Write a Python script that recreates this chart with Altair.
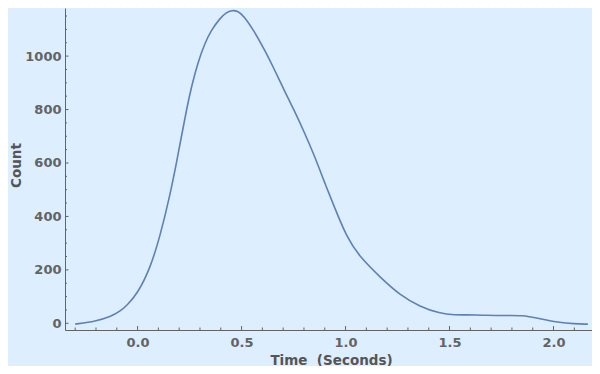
import altair as alt
import pandas as pd

# Smoothed histogram
time_s = [-0.30, -0.20, -0.13, -0.084, -0.05, 0.0, 0.06, 0.108, 0.156, 0.188, 0.212,
          0.236, 0.26, 0.292, 0.324, 0.356, 0.397, 0.425, 0.455, 0.48, 0.51, 0.562,
          0.61, 0.658, 0.706, 0.754, 0.801, 0.849, 0.897, 0.945, 1.006, 1.07, 1.166,
          1.262, 1.358, 1.454, 1.517, 1.62, 1.76, 1.85, 1.935, 2.02, 2.10, 2.165]
count = [-3, 8, 25, 45, 68, 112, 205, 325, 480, 605, 704,
         802, 889, 981, 1049, 1099, 1142, 1163, 1172, 1169, 1152, 1092,
         1024, 950, 870, 796, 716, 630, 531, 438, 321, 247, 173,
         105, 62, 37, 31, 32, 28, 31, 17, 4, -2, -3]

x_major = [0.0, 0.5, 1.0, 1.5, 2.0]
x_minor = [-0.3, -0.2, -0.1, 0.1, 0.2, 0.3, 0.4, 0.6, 0.7, 0.8, 0.9, 1.1, 1.2,
           1.3, 1.4, 1.6, 1.7, 1.8, 1.9, 2.1]
y_major = [0, 200, 400, 600, 800, 1000]
y_minor = [50, 100, 150, 250, 300, 350, 450, 500, 550, 650, 700, 750, 850,
           900, 950, 1050, 1100, 1150]

df = pd.DataFrame({"time": time_s, "count": count})

AX = "#636363"
FONT = "DejaVu Sans"
xs = alt.Scale(domain=[-0.349, 2.185], nice=False, zero=False)
ys = alt.Scale(domain=[-25, 1180], nice=False, zero=False)

x_axis = alt.Axis(
    values=x_major, format=".1f", ticks=False, grid=False,
    labelPadding=6, labelFont=FONT, labelFontWeight="bold",
    labelFontSize=13, labelColor=AX, domainColor=AX,
    title="Time\u00a0 (Seconds)", titleFont=FONT, titleFontWeight="bold",
    titleFontSize=13.5, titleColor="#555555", titleX=266, titleY=34,
    titleBaseline="alphabetic", titleAlign="center")
y_axis = alt.Axis(
    values=y_major, format="d", ticks=False, grid=False,
    labelPadding=4, labelFont=FONT, labelFontWeight="bold",
    labelFontSize=13, labelColor=AX, domainColor=AX,
    title="Count", titleFont=FONT, titleFontWeight="bold",
    titleFontSize=13.5, titleColor="#555555", titleAngle=270,
    titleX=-45, titleY=157, titleBaseline="alphabetic", titleAlign="center")

line = alt.Chart(df).mark_line(
    color="#5E81B5", strokeWidth=1.6, interpolate="basis"
).encode(
    x=alt.X("time:Q", scale=xs, axis=x_axis),
    y=alt.Y("count:Q", scale=ys, axis=y_axis),
)

def xticks(vals, length):
    return alt.Chart(pd.DataFrame({"time": vals})).mark_rule(
        color=AX, strokeWidth=1).encode(
        x=alt.X("time:Q", scale=xs, axis=x_axis),
        y=alt.value(322), y2=alt.value(322 - length))

def yticks(vals, length):
    return alt.Chart(pd.DataFrame({"count": vals})).mark_rule(
        color=AX, strokeWidth=1).encode(
        y=alt.Y("count:Q", scale=ys, axis=y_axis),
        x=alt.value(0), x2=alt.value(length))

chart = alt.layer(
    line,
    xticks(x_minor, 2.5), xticks(x_major, 4),
    yticks(y_minor, 2), yticks(y_major, 3.5),
).properties(
    width=527, height=322,
    autosize=alt.AutoSizeParams(type="none"),
    padding={"left": 57, "top": 0, "right": 0, "bottom": 36},
    background="#DDEEFF",
).configure_view(stroke=None, fill=None)

chart.save("out.html", embed_options={"renderer": "svg", "actions": False})
